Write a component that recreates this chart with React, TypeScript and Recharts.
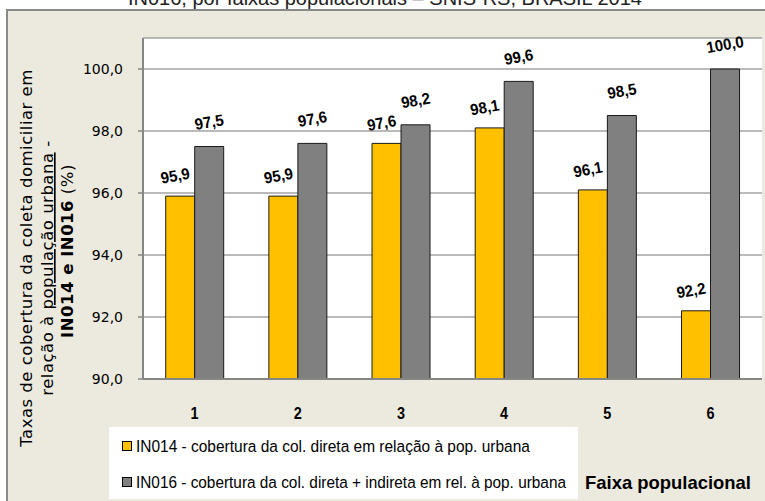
import React from 'react';
import { BarChart, Bar, XAxis, YAxis, CartesianGrid } from 'recharts';

const categories = ['1', '2', '3', '4', '5', '6'];
const in014 = [95.9, 95.9, 97.6, 98.1, 96.1, 92.2];
const in016 = [97.5, 97.6, 98.2, 99.6, 98.5, 100.0];
const yTicks = [90, 92, 94, 96, 98, 100];
const edgeTicks = [0, 1, 2, 3, 4, 5, 6];
const name014 = 'IN014 - cobertura da col. direta em relação à pop. urbana';
const name016 = 'IN016 - cobertura da col. direta + indireta em rel. à pop. urbana';
const titleText = 'IN016, por faixas populacionais – SNIS-RS, BRASIL 2014';
const xTitle = 'Faixa populacional';

const data = categories.map((c, i) => ({ faixa: c, in014: in014[i], in016: in016[i] }));

const fmt = (v: number) => Number(v).toFixed(1).replace('.', ',');

const SANS = '"Liberation Sans", Arial, sans-serif';
const WIDE = '"DejaVu Sans", Verdana, sans-serif';

const makeLabel = (dx: number, lift: number) => (props: any) => {
  const { x, y, width, value } = props;
  const cx = Number(x) + Number(width) / 2 + dx;
  const cy = Number(y) - lift;
  return (
    <g transform={`translate(${cx},${cy}) rotate(-10) scale(0.94,1)`}>
      <text x={0} y={0} textAnchor="middle" fontFamily={SANS} fontWeight="bold" fontSize={16} fill="#000">
        {fmt(value)}
      </text>
    </g>
  );
};

const CatTick = (props: any) => {
  const { x, y, payload } = props;
  return (
    <g transform={`translate(${x},${y}) scale(0.85,1)`}>
      <text x={0} y={0} dy="0.71em" textAnchor="middle" fontFamily={SANS} fontWeight="bold" fontSize={17} fill="#000">
        {payload.value}
      </text>
    </g>
  );
};

export default function App() {
  return (
    <div style={{ position: 'absolute', left: 0, top: 0, width: 765, height: 501, overflow: 'hidden', background: '#fff' }}>
      <div
        style={{
          position: 'absolute',
          left: 6,
          top: 9,
          width: 800,
          height: 540,
          background: '#ECEADF',
          borderLeft: '2px solid #8a8a8a',
          borderTop: '2px solid #8a8a8a',
        }}
      />
      <svg style={{ position: 'absolute', left: 0, top: 0 }} width={765} height={501}>
        <text x={385} y={4.5} textAnchor="middle" fontFamily={SANS} fontSize={20} fill="#222">
          {titleText}
        </text>
      </svg>
      <div style={{ position: 'absolute', left: 0, top: 0 }}>
        <BarChart
          width={765}
          height={501}
          data={data}
          margin={{ top: 38, right: 3, left: 0, bottom: 0 }}
          barCategoryGap="22%"
          barGap={0}
        >
          <CartesianGrid xAxisId="cat" yAxisId="left" vertical={false} stroke="#a3a3a3" strokeWidth={1.5} fill="#fff" />
          <XAxis
            xAxisId="edge"
            type="number"
            domain={[0, 6]}
            ticks={edgeTicks}
            allowDataOverflow
            axisLine={false}
            tickSize={5}
            tickLine={{ stroke: '#868686', strokeWidth: 1.5 }}
            tick={() => <g />}
            height={0}
          />
          <XAxis
            xAxisId="cat"
            dataKey="faixa"
            height={122}
            tickLine={false}
            tickSize={0}
            tickMargin={28}
            axisLine={{ stroke: '#868686', strokeWidth: 2 }}
            tick={<CatTick />}
          />
          <XAxis
            xAxisId="top"
            orientation="top"
            type="number"
            domain={[0, 1]}
            tick={false}
            tickLine={false}
            height={0}
            axisLine={{ stroke: '#000', strokeWidth: 1.5 }}
          />
          <YAxis
            yAxisId="left"
            width={143}
            domain={[90, 101]}
            ticks={yTicks}
            allowDataOverflow
            tickFormatter={(v: number) => fmt(v)}
            tickSize={5}
            tickMargin={15}
            axisLine={{ stroke: '#868686', strokeWidth: 2 }}
            tickLine={{ stroke: '#868686', strokeWidth: 1.5 }}
            tick={{ fontFamily: WIDE, fontSize: 14, fill: '#000' }}
          />
          <YAxis
            yAxisId="right"
            orientation="right"
            width={0}
            domain={[0, 1]}
            tick={false}
            tickLine={false}
            axisLine={{ stroke: '#222', strokeWidth: 1.5 }}
          />
          <Bar
            xAxisId="cat"
            yAxisId="left"
            dataKey="in014"
            name={name014}
            fill="#FFC000"
            stroke="#1a1a1a"
            strokeWidth={1}
            isAnimationActive={false}
            label={makeLabel(-4, 15)}
          />
          <Bar
            xAxisId="cat"
            yAxisId="left"
            dataKey="in016"
            name={name016}
            fill="#808080"
            stroke="#1a1a1a"
            strokeWidth={1}
            isAnimationActive={false}
            label={makeLabel(1, 19)}
          />
        </BarChart>
      </div>
      <svg style={{ position: 'absolute', left: 0, top: 0, pointerEvents: 'none' }} width={765} height={501}>
        <g fontFamily={WIDE} fontSize={16.5} fill="#000" letterSpacing={0.5}>
          <text transform="translate(32,258) rotate(-90)" textAnchor="middle">
            Taxas de cobertura da coleta domiciliar em
          </text>
          <text transform="translate(53,268) rotate(-90)" textAnchor="middle">
            relação à <tspan style={{ textDecoration: 'underline' }}>população urbana</tspan> -
          </text>
          <text transform="translate(73,251) rotate(-90)" textAnchor="middle">
            <tspan fontWeight="bold">IN014 e IN016</tspan> (%)
          </text>
        </g>
        <rect x={109} y={427} width={469} height={72} fill="#fff" />
        <rect x={122.5} y={441.5} width={9} height={9} fill="#FFC000" stroke="#000" strokeWidth={1} />
        <rect x={122.5} y={477.5} width={9} height={9} fill="#808080" stroke="#000" strokeWidth={1} />
        <g transform="translate(136,452) scale(0.86,1)">
          <text x={0} y={0} fontFamily={SANS} fontSize={17} fill="#000" textLength={458} lengthAdjust="spacingAndGlyphs">
            {name014}
          </text>
        </g>
        <g transform="translate(136,488) scale(0.86,1)">
          <text x={0} y={0} fontFamily={SANS} fontSize={17} fill="#000" textLength={500} lengthAdjust="spacingAndGlyphs">
            {name016}
          </text>
        </g>
        <g transform="translate(585,489) scale(0.86,1)">
          <text x={0} y={0} fontFamily={SANS} fontWeight="bold" fontSize={18} fill="#000" textLength={193} lengthAdjust="spacingAndGlyphs">
            {xTitle}
          </text>
        </g>
      </svg>
    </div>
  );
}
